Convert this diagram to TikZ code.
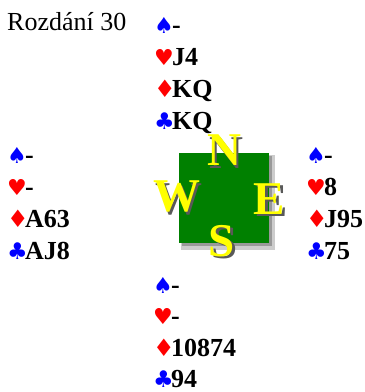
\documentclass[tikz,border=0pt]{standalone}
\usepackage{fontspec}
\usepackage{xcolor}
\usepackage{tikz}
\setmainfont{Liberation Serif}
\newfontfamily\suitfont{DejaVu Sans}
\usetikzlibrary{positioning}
\definecolor{suitBlue}{RGB}{0,0,255}
\definecolor{suitRed}{RGB}{255,0,0}
\definecolor{tableGreen}{RGB}{0,128,0}
\definecolor{compassYellow}{RGB}{255,255,0}
\newcommand{\piky}{\makebox[18pt][l]{\fontsize{22}{22}\suitfont\color{suitBlue}♠}}
\newcommand{\srdce}{\makebox[18pt][l]{\fontsize{22}{22}\suitfont\color{suitRed}♥}}
\newcommand{\kary}{\makebox[18pt][l]{\fontsize{24}{24}\suitfont\color{suitRed}♦}}
\newcommand{\krize}{\makebox[18pt][l]{\fontsize{23}{23}\suitfont\color{suitBlue}♣}}
\newcommand{\kompas}[1]{\rlap{\hspace{2.5pt}\raisebox{-2.5pt}{\color{black!65}#1}}#1}

\begin{document}
\begin{tikzpicture}[
    x=1pt, y=-1pt,
    handline/.style={anchor=base west, inner sep=0pt, font=\fontsize{26}{30}\selectfont\bfseries},
    titletext/.style={anchor=base west, inner sep=0pt, font=\fontsize{26}{30}\selectfont},
    compass/.style={inner sep=0pt, text=compassYellow, font=\fontsize{47}{47}\selectfont\bfseries},
]
    \useasboundingbox (0,0) rectangle (365,392);

    \node[titletext] (title) at (7,30) {Rozdání 30};

    % North
    \node[handline] (n1) at (154,33) {\piky-};
    \node[handline] (n2) at (154,65) {\srdce J4};
    \node[handline] (n3) at (154,97) {\kary KQ};
    \node[handline] (n4) at (154,129) {\krize KQ};

    % West
    \node[handline] (w1) at (7,163) {\piky-};
    \node[handline] (w2) at (7,195) {\srdce-};
    \node[handline] (w3) at (7,227) {\kary A63};
    \node[handline] (w4) at (7,259) {\krize AJ8};

    % East
    \node[handline] (e1) at (306,163) {\piky-};
    \node[handline] (e2) at (306,195) {\srdce 8};
    \node[handline] (e3) at (306,227) {\kary J95};
    \node[handline] (e4) at (306,259) {\krize 75};

    % South
    \node[handline] (s1) at (153,293) {\piky-};
    \node[handline] (s2) at (153,324) {\srdce-};
    \node[handline] (s3) at (153,356) {\kary 10874};
    \node[handline] (s4) at (153,387) {\krize 94};

    % table with compass
    \node[fill=black!20, minimum width=94pt, minimum height=95pt, inner sep=0pt] (blur) at (228,202) {};
    \node[fill=black!40, minimum width=90pt, minimum height=90pt, inner sep=0pt] (shadow) at (227,201) {};
    \node[fill=tableGreen, minimum width=90pt, minimum height=90pt, inner sep=0pt] (table) at (224,198) {};

    \node[compass] (N) at ([shift={(0,-1)}]table.north) {\kompas{N}};
    \node[compass] (W) at ([shift={(-2,0)}]table.west) {\kompas{W}};
    \node[compass] (E) at ([shift={(0,2)}]table.east) {\kompas{E}};
    \node[compass] (S) at ([shift={(-2,-1)}]table.south) {\kompas{S}};
\end{tikzpicture}
\end{document}
